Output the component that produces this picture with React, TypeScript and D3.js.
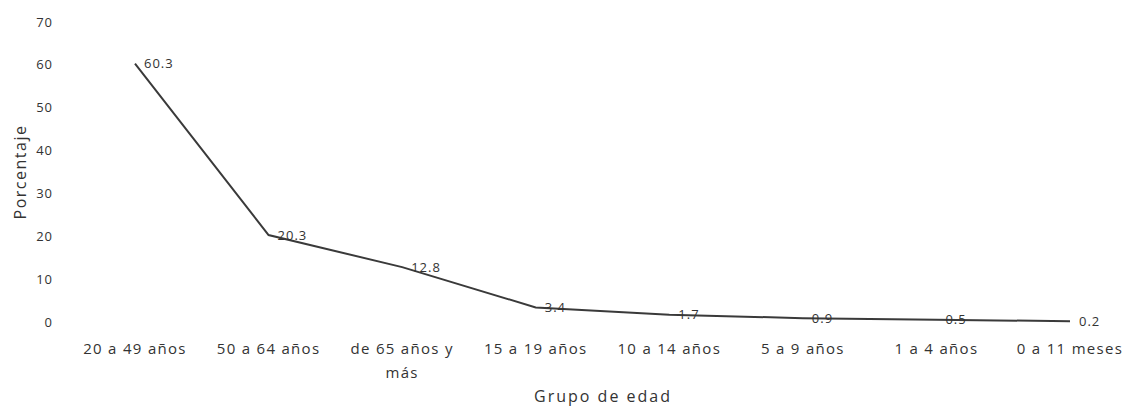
import React, { useRef, useEffect } from 'react';
import * as d3 from 'd3';

const categories = [
  '20 a 49 años',
  '50 a 64 años',
  'de 65 años y más',
  '15 a 19 años',
  '10 a 14 años',
  '5 a 9 años',
  '1 a 4 años',
  '0 a 11 meses',
];
const values = [60.3, 20.3, 12.8, 3.4, 1.7, 0.9, 0.5, 0.2];
const yTicks = [0, 10, 20, 30, 40, 50, 60, 70];
// label lines for categories that wrap
const labelLines: Record<string, string[]> = {
  'de 65 años y más': ['de 65 años y', 'más'],
};

const WIDTH = 1127;
const HEIGHT = 410;
const FONT = '"Open Sans", "DejaVu Sans", sans-serif';
const TEXT = '#333';

const App: React.FC = () => {
  const ref = useRef<SVGSVGElement | null>(null);

  useEffect(() => {
    document.body.style.margin = '0';
    const svg = d3.select(ref.current);
    svg.selectAll('*').remove();

    const x = d3.scalePoint<string>().domain(categories).range([135, 1070]);
    const y = d3.scaleLinear().domain([0, 70]).range([322, 22]);

    // y tick labels (no axis line, no gridlines)
    svg.append('g')
      .selectAll('text')
      .data(yTicks)
      .join('text')
      .attr('x', 53)
      .attr('y', d => y(d))
      .attr('dy', '0.35em')
      .attr('text-anchor', 'end')
      .attr('font-family', FONT)
      .attr('font-size', 13)
      .attr('letter-spacing', 1)
      .attr('fill', TEXT)
      .text(d => d);

    // x category labels
    const xl = svg.append('g')
      .selectAll('text')
      .data(categories)
      .join('text')
      .attr('y', 349)
      .attr('text-anchor', 'middle')
      .attr('font-family', FONT)
      .attr('font-size', 15)
      .attr('letter-spacing', 1.3)
      .attr('fill', TEXT);

    xl.each(function (d) {
      const lines = labelLines[d] || [d];
      d3.select(this)
        .selectAll('tspan')
        .data(lines)
        .join('tspan')
        .attr('x', x(d)!)
        .attr('dy', (_, i) => (i === 0 ? '0.35em' : '1.6em'))
        .text(l => l);
    });

    // line
    const line = d3.line<number>()
      .x((_, i) => x(categories[i])!)
      .y(d => y(d));

    svg.append('path')
      .datum(values)
      .attr('d', line)
      .attr('fill', 'none')
      .attr('stroke', '#3a3a3a')
      .attr('stroke-width', 2);

    // data labels
    svg.append('g')
      .selectAll('text')
      .data(values)
      .join('text')
      .attr('x', (_, i) => x(categories[i])! + 9)
      .attr('y', d => y(d))
      .attr('dy', '0.35em')
      .attr('font-family', FONT)
      .attr('font-size', 13)
      .attr('letter-spacing', 1)
      .attr('fill', TEXT)
      .text(d => d.toFixed(1));

    // axis titles
    svg.append('text')
      .attr('transform', 'translate(20,172) rotate(-90)')
      .attr('text-anchor', 'middle')
      .attr('dy', '0.35em')
      .attr('font-family', FONT)
      .attr('font-size', 16)
      .attr('letter-spacing', 1.5)
      .attr('fill', TEXT)
      .text('Porcentaje');

    svg.append('text')
      .attr('x', 603)
      .attr('y', 396)
      .attr('dy', '0.35em')
      .attr('text-anchor', 'middle')
      .attr('font-family', FONT)
      .attr('font-size', 16)
      .attr('letter-spacing', 2)
      .attr('fill', TEXT)
      .text('Grupo de edad');
  }, []);

  return <svg ref={ref} width={WIDTH} height={HEIGHT} style={{ display: 'block', background: '#fff' }}></svg>;
};

export default App;
